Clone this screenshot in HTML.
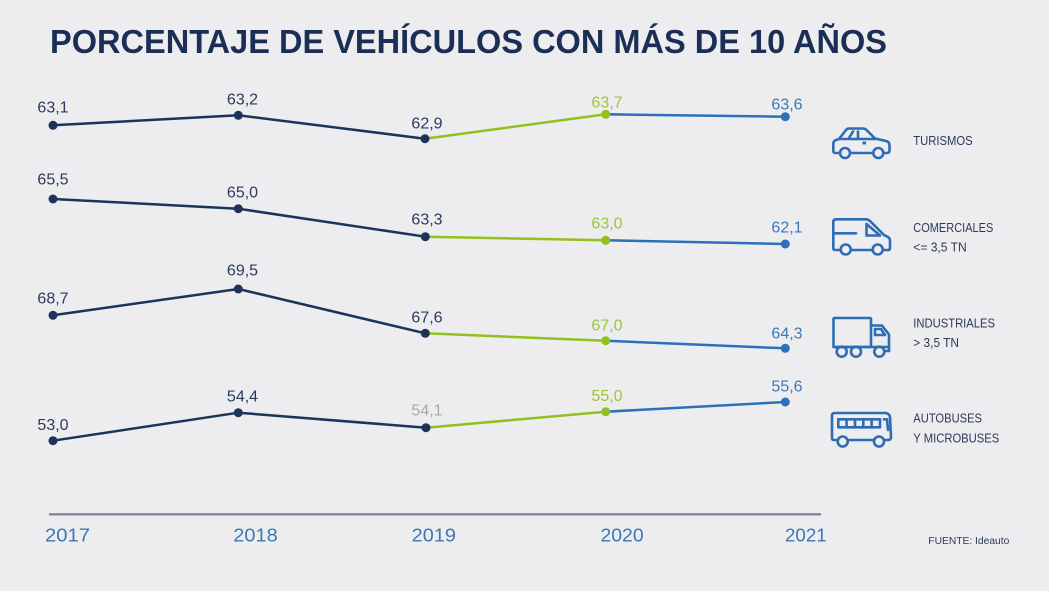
<!DOCTYPE html>
<html>
<head>
<meta charset="utf-8">
<style>
  html, body { margin: 0; padding: 0; background: #edecee; }
  svg { display: block; }
  text { font-family: "Liberation Sans", sans-serif; }
</style>
</head>
<body>
<svg width="1049" height="591" viewBox="0 0 1049 591" xmlns="http://www.w3.org/2000/svg">
  <rect x="0" y="0" width="1049" height="591" fill="#edecee"/>

  <!-- Title -->
  <text x="50" y="53" font-size="33" font-weight="bold" fill="#1b2f56" textLength="837" lengthAdjust="spacingAndGlyphs">PORCENTAJE DE VEHÍCULOS CON MÁS DE 10 AÑOS</text>

  <!-- Series lines -->
  <g fill="none" stroke-width="2.5" stroke-linejoin="round" stroke-linecap="round">
    <!-- Row 1 -->
    <polyline points="53,125.3 238.3,115.3 425,138.7" stroke="#1c3459"/>
    <line x1="425" y1="138.7" x2="605.7" y2="114.3" stroke="#93c01f"/>
    <line x1="605.7" y1="114.3" x2="785.3" y2="116.7" stroke="#2b70b9"/>
    <!-- Row 2 -->
    <polyline points="53,199 238.3,208.7 425.3,236.7" stroke="#1c3459"/>
    <line x1="425.3" y1="236.7" x2="605.7" y2="240.3" stroke="#93c01f"/>
    <line x1="605.7" y1="240.3" x2="785.3" y2="244" stroke="#2b70b9"/>
    <!-- Row 3 -->
    <polyline points="53,315.3 238.3,289 425.3,333.3" stroke="#1c3459"/>
    <line x1="425.3" y1="333.3" x2="605.7" y2="340.7" stroke="#93c01f"/>
    <line x1="605.7" y1="340.7" x2="785.3" y2="348.3" stroke="#2b70b9"/>
    <!-- Row 4 -->
    <polyline points="53,440.7 238.3,412.7 426,427.7" stroke="#1c3459"/>
    <line x1="426" y1="427.7" x2="605.7" y2="411.7" stroke="#93c01f"/>
    <line x1="605.7" y1="411.7" x2="785.3" y2="402" stroke="#2b70b9"/>
  </g>

  <!-- Dots -->
  <g>
    <g fill="#1c3459">
      <circle cx="53" cy="125.3" r="4.5"/><circle cx="238.3" cy="115.3" r="4.5"/><circle cx="425" cy="138.7" r="4.5"/>
      <circle cx="53" cy="199" r="4.5"/><circle cx="238.3" cy="208.7" r="4.5"/><circle cx="425.3" cy="236.7" r="4.5"/>
      <circle cx="53" cy="315.3" r="4.5"/><circle cx="238.3" cy="289" r="4.5"/><circle cx="425.3" cy="333.3" r="4.5"/>
      <circle cx="53" cy="440.7" r="4.5"/><circle cx="238.3" cy="412.7" r="4.5"/><circle cx="426" cy="427.7" r="4.5"/>
    </g>
    <g fill="#93c01f">
      <circle cx="605.7" cy="114.3" r="4.5"/><circle cx="605.7" cy="240.3" r="4.5"/>
      <circle cx="605.7" cy="340.7" r="4.5"/><circle cx="605.7" cy="411.7" r="4.5"/>
    </g>
    <g fill="#2b70b9">
      <circle cx="785.3" cy="116.7" r="4.5"/><circle cx="785.3" cy="244" r="4.5"/>
      <circle cx="785.3" cy="348.3" r="4.5"/><circle cx="785.3" cy="402" r="4.5"/>
    </g>
  </g>

  <!-- Value labels -->
  <g font-size="16" text-anchor="middle">
    <g fill="#2a3b5e">
      <text x="53" y="112.7">63,1</text>
      <text x="242.5" y="104.3">63,2</text>
      <text x="427" y="128.3">62,9</text>
      <text x="53" y="184.3">65,5</text>
      <text x="242.5" y="197.7">65,0</text>
      <text x="427" y="224.3">63,3</text>
      <text x="53" y="303.3">68,7</text>
      <text x="242.5" y="275.7">69,5</text>
      <text x="427" y="322.3">67,6</text>
      <text x="53" y="430">53,0</text>
      <text x="242.5" y="401.7">54,4</text>
    </g>
    <text x="427" y="415.7" fill="#a9a9ab">54,1</text>
    <g fill="#9cc43c">
      <text x="607" y="107.3">63,7</text>
      <text x="607" y="228.3">63,0</text>
      <text x="607" y="330.7">67,0</text>
      <text x="607" y="401">55,0</text>
    </g>
    <g fill="#3a78b8">
      <text x="787" y="109.3">63,6</text>
      <text x="787" y="232.7">62,1</text>
      <text x="787" y="338.3">64,3</text>
      <text x="787" y="391.7">55,6</text>
    </g>
  </g>

  <!-- Axis line -->
  <line x1="49" y1="514.3" x2="821" y2="514.3" stroke="#7c7b8f" stroke-width="2.2"/>

  <!-- Year labels -->
  <g font-size="18.5" fill="#3a78b8">
    <text x="45" y="541.5" textLength="45" lengthAdjust="spacingAndGlyphs">2017</text>
    <text x="233.3" y="541.5" textLength="44.4" lengthAdjust="spacingAndGlyphs">2018</text>
    <text x="411.7" y="541.5" textLength="44.3" lengthAdjust="spacingAndGlyphs">2019</text>
    <text x="600.5" y="541.5" textLength="43.1" lengthAdjust="spacingAndGlyphs">2020</text>
    <text x="785" y="541.5" textLength="41.7" lengthAdjust="spacingAndGlyphs">2021</text>
  </g>

  <!-- Source -->
  <text x="928.3" y="544" font-size="10" fill="#2c3a5a" textLength="81" lengthAdjust="spacingAndGlyphs">FUENTE: Ideauto</text>

  <!-- Legend texts -->
  <g font-size="12.5" fill="#2c3a5a">
    <text x="913.3" y="145" textLength="59.4" lengthAdjust="spacingAndGlyphs">TURISMOS</text>
    <text x="913.3" y="232" textLength="80" lengthAdjust="spacingAndGlyphs">COMERCIALES</text>
    <text x="913.3" y="251.7" textLength="53.4" lengthAdjust="spacingAndGlyphs">&lt;= 3,5 TN</text>
    <text x="913.3" y="327.7" textLength="81.7" lengthAdjust="spacingAndGlyphs">INDUSTRIALES</text>
    <text x="913.3" y="347" textLength="45.7" lengthAdjust="spacingAndGlyphs">&gt; 3,5 TN</text>
    <text x="913.3" y="422.7" textLength="68.7" lengthAdjust="spacingAndGlyphs">AUTOBUSES</text>
    <text x="913.3" y="442.7" textLength="86" lengthAdjust="spacingAndGlyphs">Y MICROBUSES</text>
  </g>

  <!-- Icons -->
  <g fill="none" stroke="#2e6db4" stroke-width="2.6" stroke-linejoin="round" stroke-linecap="round">
    <!-- Car -->
    <path d="M839.5,153 L835,153 Q833.3,153 833.3,150 L833.3,144 Q833.3,141 836,140 L839,139 L846,130 Q847,128.5 849,128.5 L863,128.5 Q865,128.5 866.5,130 L875,138.5 L886,141 Q889.5,142 889.5,145 L889.5,150 Q889.5,153 887,153 L884,153"/>
    <line x1="850.5" y1="153" x2="872.5" y2="153"/>
    <circle cx="845" cy="153" r="5"/>
    <circle cx="878.3" cy="153" r="5"/>
    <path d="M840,139 L875,139"/>
    <path d="M849,138 L853,131.5 M858,131.5 L858,138"/>
    <rect x="863" y="142" width="2.5" height="2" fill="#2e6db4" stroke-width="1"/>
    <!-- Van -->
    <path d="M840.5,250 L835,250 Q833.3,250 833.3,248 L833.3,222 Q833.3,219.3 836,219.3 L866,219.3 Q868,219.3 870,221 L884,235 L888,237 Q890,238.5 890,241 L890,248 Q890,250 888,250 L883,250"/>
    <line x1="851" y1="250" x2="872" y2="250"/>
    <circle cx="845.7" cy="249.5" r="5"/>
    <circle cx="877.7" cy="249.5" r="5"/>
    <path d="M866.5,224 L866.5,235.5 L880,235.5 Z"/>
    <line x1="833.3" y1="233.3" x2="856" y2="233.3"/>
    <!-- Truck -->
    <rect x="833.5" y="318" width="37.5" height="29" rx="1"/>
    <path d="M871,325.5 L882,325.5 L889,334.5 L889,351 L886,351"/>
    <path d="M875,329 L881,329 L885,335 L875,335 Z"/>
    <line x1="833.5" y1="347" x2="889" y2="347"/>
    <circle cx="841.7" cy="351.7" r="5"/>
    <circle cx="856" cy="351.7" r="5"/>
    <circle cx="879.3" cy="351.7" r="5"/>
    <!-- Bus -->
    <path d="M837.5,440 L834,440 Q832,440 832,438 L832,415.5 Q832,413 835,413 L885,413 Q889,413 890,417 L891,437 Q891,440 888,440 L884.5,440"/>
    <line x1="848" y1="440" x2="874" y2="440"/>
    <circle cx="842.7" cy="441.5" r="5"/>
    <circle cx="879" cy="441.5" r="5"/>
    <rect x="838.3" y="419.3" width="41.7" height="8"/>
    <line x1="846.6" y1="419.3" x2="846.6" y2="427.3"/>
    <line x1="855" y1="419.3" x2="855" y2="427.3"/>
    <line x1="863.3" y1="419.3" x2="863.3" y2="427.3"/>
    <line x1="871.6" y1="419.3" x2="871.6" y2="427.3"/>
    <path d="M884,419.3 L887,419.3 L888,430"/>
  </g>
</svg>
</body>
</html>
